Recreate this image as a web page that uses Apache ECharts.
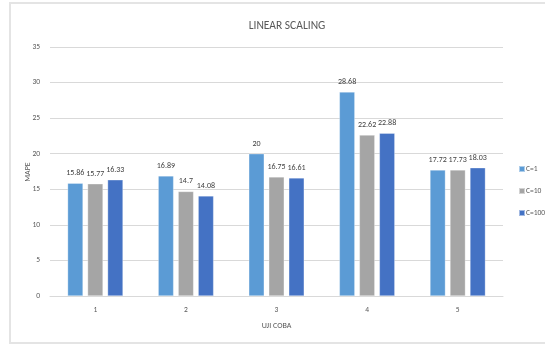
<!DOCTYPE html>
<html><head><meta charset="utf-8">
<script src="https://cdn.jsdelivr.net/npm/echarts@6/dist/echarts.min.js"></script>
<style>html,body{margin:0;padding:0;background:#fff}#c{width:545px;height:344px}</style>
</head><body><div id="c"></div>
<script>
const categories = ['1','2','3','4','5'];
const seriesNames = ['C=1','C=10','C=100'];
const c1 = [15.86, 16.89, 20, 28.68, 17.72];
const c10 = [15.77, 14.7, 16.75, 22.62, 17.73];
const c100 = [16.33, 14.08, 16.61, 22.88, 18.03];
const colors = ['#5B9BD5','#A5A5A5','#4472C4'];
const values = [c1, c10, c100];
const yAxisTitle = 'MAPE';

const chart = echarts.init(document.getElementById('c'), null, {renderer:'canvas'});
const font = 'Calibri, "Liberation Sans", "DejaVu Sans", sans-serif';
chart.setOption({
  animation: false,
  backgroundColor: '#fff',
  textStyle: {fontFamily: font},
  graphic: [{
    type: 'rect', shape: {x: 10, y: 3, width: 560, height: 340},
    style: {fill: 'none', stroke: '#e4e4e4', lineWidth: 2}, z: -1
  }, {
    type: 'text', x: 28, y: 172, rotation: Math.PI / 2,
    style: {text: yAxisTitle, fontSize: 8, fill: '#595959', fontFamily: font, align: 'center', verticalAlign: 'middle'}
  }],
  title: {
    text: 'LINEAR SCALING', left: 282, top: 15, textAlign: 'center',
    textStyle: {fontSize: 11.5, fontWeight: 'normal', color: '#595959', fontFamily: font}
  },
  legend: {
    orient: 'vertical', left: 518, top: 165, padding: 0, itemWidth: 6, itemHeight: 6, itemGap: 14,
    icon: 'rect',
    textStyle: {fontSize: 7.5, color: '#595959', padding: [0,0,0,-4], overflow: 'none'},
    data: seriesNames
  },
  grid: {left: 50, right: 42, top: 47, bottom: 48},
  xAxis: {
    type: 'category', data: categories,
    name: 'UJI COBA', nameLocation: 'middle', nameGap: 26,
    nameTextStyle: {fontSize: 8, color: '#595959'},
    axisLine: {lineStyle: {color: '#d9d9d9'}},
    axisTick: {show: false},
    axisLabel: {fontSize: 7.5, color: '#595959', margin: 10}
  },
  yAxis: {
    type: 'value', min: 0, max: 35, interval: 5,
    axisLine: {show: false}, axisTick: {show: false},
    axisLabel: {fontSize: 7.5, color: '#595959', margin: 10},
    splitLine: {lineStyle: {color: '#d9d9d9'}}
  },
  series: seriesNames.map((n, i) => ({
    name: n, type: 'bar', data: values[i],
    barWidth: 15.5, barGap: '29%',
    itemStyle: {color: colors[i], borderColor: 'rgba(255,255,255,0.5)', borderWidth: 0.6},
    label: {show: true, position: 'top', distance: 6, fontSize: 8, color: '#404040'}
  }))
});
</script></body></html>
